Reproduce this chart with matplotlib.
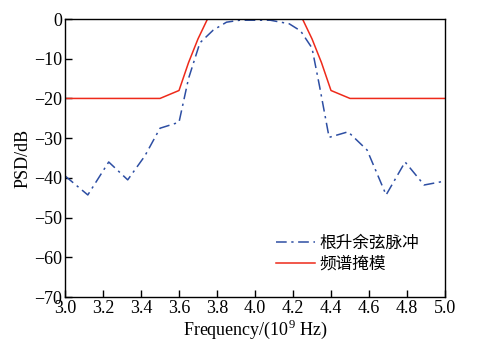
import numpy as np
import matplotlib
matplotlib.use('Agg')
import matplotlib.pyplot as plt

# Root raised cosine pulse PSD
f_rrc = [3.0, 3.12, 3.23, 3.33, 3.42, 3.5, 3.6, 3.65, 3.71, 3.78, 3.85, 3.92,
         4.0, 4.08, 4.18, 4.24, 4.3, 4.34, 4.39, 4.49, 4.59, 4.69, 4.79, 4.89, 5.0]
psd_rrc = [-39.5, -44.3, -36.0, -40.5, -34.5, -27.5, -26.0, -15.0, -6.0, -2.8, -0.8, -0.3,
           -0.3, -0.3, -1.2, -3.0, -7.3, -17.0, -29.8, -28.4, -33.0, -44.3, -36.0, -41.8, -40.8]

# Spectral mask
f_mask = [3.0, 3.5, 3.6, 3.65, 3.7, 3.75, 4.25, 4.3, 4.35, 4.4, 4.5, 5.0]
psd_mask = [-20, -20, -18, -11, -5, 0, 0, -5, -11, -18, -20, -20]

xticks = [3.0, 3.2, 3.4, 3.6, 3.8, 4.0, 4.2, 4.4, 4.6, 4.8, 5.0]
yticks = [0, -10, -20, -30, -40, -50, -60, -70]

serif = ['Liberation Serif', 'DejaVu Serif']
cjk = ['Noto Sans CJK SC', 'DejaVu Sans']
plt.rcParams['mathtext.fontset'] = 'custom'
plt.rcParams['mathtext.rm'] = 'Liberation Serif'

fig = plt.figure(figsize=(4.94, 3.45), dpi=100)
ax = fig.add_axes([0.1316, 0.1391, 0.7692, 0.8058])

ax.plot(f_rrc, psd_rrc, color='#2d4ea3', linestyle=(0, (7, 3, 1.5, 3)),
        linewidth=1.1, label='根升余弦脉冲')
ax.plot(f_mask, psd_mask, color='#ee2a1a', linewidth=1.1, label='频谱掩模')

ax.set_xlim(3.0, 5.0)
ax.set_ylim(-70, 0)
ax.set_xticks(xticks)
ax.set_yticks(yticks)
ax.set_xticklabels([f'{v:.1f}' for v in xticks], fontfamily=serif, fontsize=13)
ax.set_yticklabels([f'{v}'.replace('-', '\u2212') for v in yticks], fontfamily=serif, fontsize=13)
ax.tick_params(direction='in', length=5, width=1, pad=2, top=False, right=False)
for s in ax.spines.values():
    s.set_linewidth(1.0)

ax.set_xlabel('Frequency/(10$^9$ Hz)', fontfamily=serif, fontsize=13, labelpad=1)
ax.set_ylabel('PSD/dB', fontfamily=serif, fontsize=13, labelpad=2)

leg = ax.legend(loc='lower right', bbox_to_anchor=(0.95, 0.062), frameon=False,
                prop={'family': cjk, 'size': 12}, handlelength=2.3,
                handletextpad=0.3, labelspacing=0.25, borderaxespad=0)

fig.savefig('out.png', dpi=100)
